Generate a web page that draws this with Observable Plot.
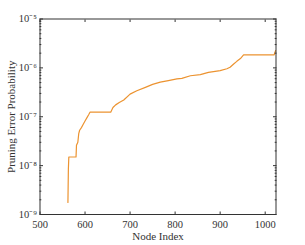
<!DOCTYPE html>
<html>
<head>
<meta charset="utf-8">
<script src="https://cdn.jsdelivr.net/npm/d3@7"></script>
<script src="https://cdn.jsdelivr.net/npm/@observablehq/plot@0.6"></script>
<style>
  html, body { margin: 0; padding: 0; background: #fff; }
</style>
</head>
<body>
<div id="chart"></div>
<script>
// Node index (x) and pruning error probability (y)
const nodeIndex = [562, 563, 564, 580, 581, 584, 586, 588, 592, 596, 600, 604, 608, 611, 657, 662, 668, 676, 686, 700, 715, 734, 750, 767, 785, 804, 815, 834, 856, 874, 900, 915, 922, 930, 937, 945, 952, 1020, 1021, 1023];
const errorProb = [1.76e-9, 8.5e-9, 1.5e-8, 1.5e-8, 2.6e-8, 3.0e-8, 4.5e-8, 5.3e-8, 6.0e-8, 7.0e-8, 8.2e-8, 9.5e-8, 1.1e-7, 1.24e-7, 1.24e-7, 1.55e-7, 1.75e-7, 1.95e-7, 2.2e-7, 2.9e-7, 3.4e-7, 4.0e-7, 4.6e-7, 5.1e-7, 5.5e-7, 5.95e-7, 6.1e-7, 6.9e-7, 7.3e-7, 8.1e-7, 8.8e-7, 9.6e-7, 1.03e-6, 1.2e-6, 1.36e-6, 1.55e-6, 1.85e-6, 1.85e-6, 2.0e-6, 2.25e-6];
const xTicks = [500, 600, 700, 800, 900, 1000];
const yExponents = [-9, -8, -7, -6, -5];
const xLabel = "Node Index";
const yLabel = "Pruning Error Probability";

const data = nodeIndex.map((x, i) => ({x, y: errorProb[i]}));
const yTicks = yExponents.map(e => Math.pow(10, e));
const minorTicks = [];
for (const e of yExponents.slice(0, -1)) for (let m = 2; m <= 9; m++) minorTicks.push(m * Math.pow(10, e));
const sup = {"-": "\u207B", "0": "\u2070", "1": "\u00B9", "2": "\u00B2", "3": "\u00B3", "4": "\u2074", "5": "\u2075", "6": "\u2076", "7": "\u2077", "8": "\u2078", "9": "\u2079"};
const fmtPow = d => "10" + String(Math.round(Math.log10(d))).split("").map(c => sup[c]).join("");

const axisColor = "#333";
const chart = Plot.plot({
  width: 305,
  height: 245,
  marginLeft: 39.5,
  marginRight: 29.5,
  marginTop: 18.5,
  marginBottom: 31,
  style: {fontFamily: "'Liberation Serif', 'Times New Roman', serif", fontSize: "10.5px", color: "#333", background: "#fff"},
  x: {domain: [500, 1024]},
  y: {type: "log", domain: [1e-9, 1e-5]},
  marks: [
    Plot.line(data, {x: "x", y: "y", stroke: "#ec9330", strokeWidth: 1.2}),
    Plot.frame({stroke: axisColor, strokeWidth: 1}),
    // x ticks, inward, bottom and top
    Plot.axisX(xTicks, {anchor: "bottom", tickSize: -2.5, tickFormat: () => "", stroke: axisColor, label: null}),
    Plot.axisX(xTicks, {anchor: "top", tickSize: -2.5, tickFormat: () => "", stroke: axisColor, label: null}),
    Plot.axisX(xTicks, {anchor: "bottom", tickSize: 0, tickPadding: 6, tickFormat: d => String(d), fill: "#333", label: null}),
    // y ticks, inward, left and right
    Plot.axisY(yTicks, {anchor: "left", tickSize: -3.5, tickFormat: () => "", stroke: axisColor, label: null}),
    Plot.axisY(yTicks, {anchor: "right", tickSize: -3.5, tickFormat: () => "", stroke: axisColor, label: null}),
    Plot.axisY(minorTicks, {anchor: "left", tickSize: -1.8, tickFormat: () => "", stroke: axisColor, label: null}),
    Plot.axisY(minorTicks, {anchor: "right", tickSize: -1.8, tickFormat: () => "", stroke: axisColor, label: null}),
    Plot.axisY(yTicks, {anchor: "left", tickSize: 0, tickPadding: 3, tickFormat: fmtPow, fill: "#333", label: null}),
    // axis titles
    Plot.text([xLabel], {frameAnchor: "bottom", dy: 25, text: d => d, fill: "#333", fontSize: 11}),
    Plot.text([yLabel], {frameAnchor: "left", dx: -29, rotate: -90, textAnchor: "middle", text: d => d, fill: "#333", fontSize: 11})
  ]
});
document.getElementById("chart").appendChild(chart);
</script>
</body>
</html>
